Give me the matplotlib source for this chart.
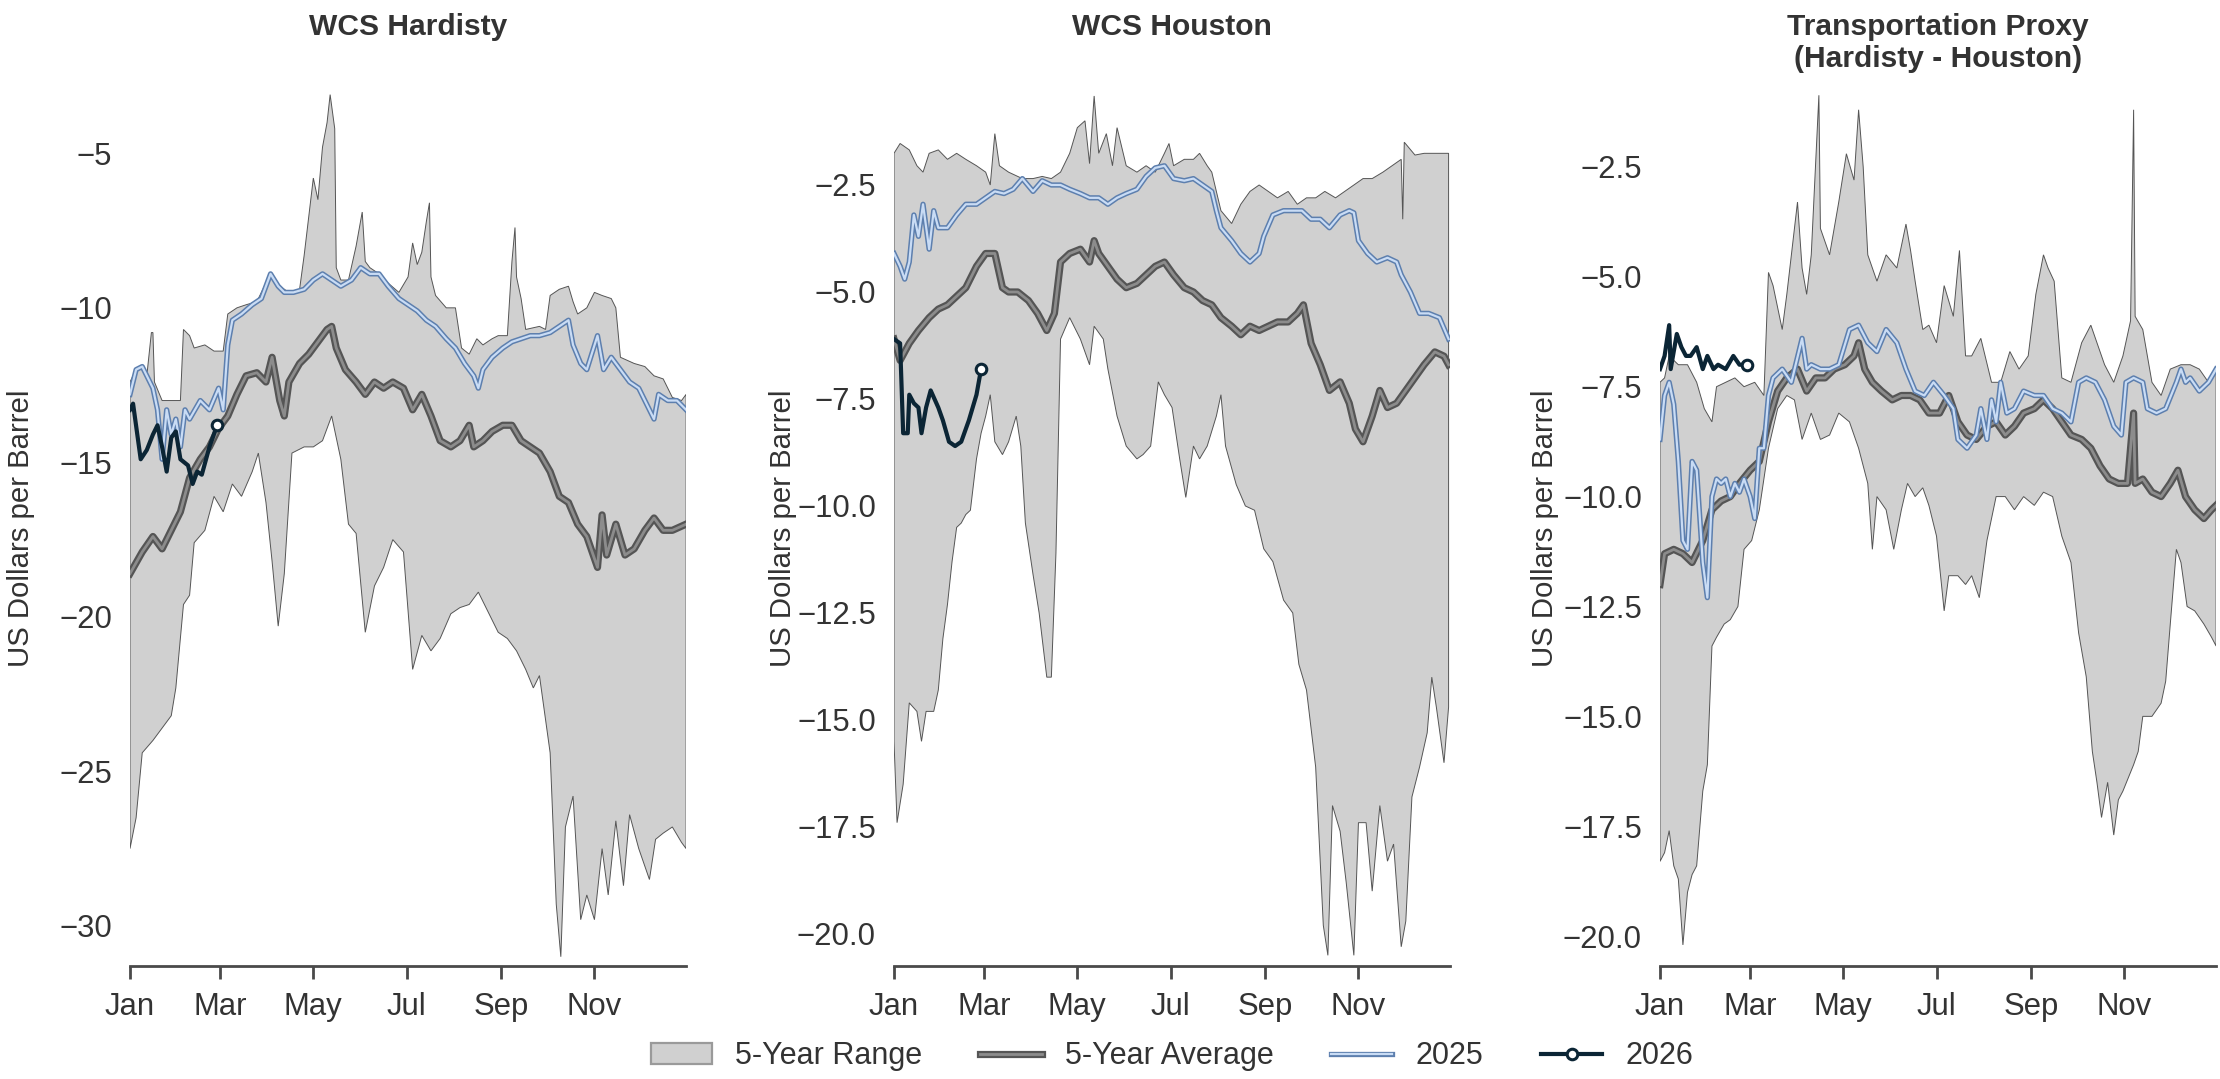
import numpy as np
import matplotlib
matplotlib.use("Agg")
import matplotlib.pyplot as plt
import matplotlib.patheffects as pe
from matplotlib.lines import Line2D
from matplotlib.patches import Patch

plt.rcParams['font.family'] = ['Liberation Sans', 'DejaVu Sans']

# day of year -> value
month_days = [0, 59, 120, 181, 243, 304]
month_labels = ["Jan", "Mar", "May", "Jul", "Sep", "Nov"]

# --- WCS Hardisty ---
hard_hi = [(0, -12.4), (4, -12.0), (8, -11.9), (11, -12.2), (14, -10.8), (15, -10.8), (16, -12.4), (21, -13.0),
           (27, -13.0), (33, -13.0), (35, -10.7), (39, -10.9), (42, -11.3), (49, -11.2), (55, -11.4), (61, -11.4),
           (64, -10.2), (70, -10.0), (76, -9.9), (83, -9.8), (92, -8.9), (98, -9.3), (104, -9.5), (111, -9.4),
           (114, -8.3), (120, -5.8), (123, -6.5), (126, -4.8), (129, -4.0), (131, -3.1), (134, -4.2), (135, -8.7),
           (138, -9.1), (143, -9.1), (148, -8.0), (152, -6.9), (154, -8.5), (157, -8.7), (163, -8.9), (169, -9.2),
           (176, -9.5), (182, -9.0), (185, -7.9), (188, -8.6), (191, -8.2), (194, -7.2), (196, -6.6), (197, -9.0),
           (200, -9.6), (207, -10.0), (213, -10.0), (217, -11.3), (222, -11.5), (227, -11.0), (231, -11.2),
           (237, -11.0), (241, -10.9), (247, -10.9), (250, -8.5), (252, -7.4), (253, -9.0), (256, -9.7),
           (259, -10.7), (268, -10.6), (272, -10.7), (275, -9.6), (281, -9.4), (287, -9.3), (290, -9.8),
           (293, -10.2), (299, -10.0), (304, -9.5), (309, -9.6), (315, -9.7), (318, -10.0), (321, -11.6),
           (330, -11.8), (337, -11.9), (343, -12.2), (349, -12.3), (355, -12.9), (361, -13.0), (364, -12.8)]
hard_lo = [(0, -27.5), (4, -26.5), (8, -24.4), (15, -24.0), (21, -23.6), (27, -23.2), (30, -22.3), (35, -19.6),
           (39, -19.3), (42, -17.6), (49, -17.2), (55, -16.1), (61, -16.6), (67, -15.7), (73, -16.1), (80, -15.3),
           (84, -14.7), (89, -16.3), (93, -18.2), (97, -20.3), (101, -18.6), (106, -14.7), (114, -14.5),
           (120, -14.5), (126, -14.3), (132, -13.5), (138, -14.9), (143, -17.0), (148, -17.3), (154, -20.5),
           (160, -19.0), (166, -18.4), (172, -17.5), (179, -17.9), (185, -21.7), (191, -20.6), (197, -21.1),
           (203, -20.7), (210, -19.9), (216, -19.7), (222, -19.6), (228, -19.2), (234, -19.8), (241, -20.5),
           (247, -20.7), (253, -21.1), (259, -21.7), (264, -22.3), (268, -21.9), (275, -24.4), (279, -29.3),
           (282, -31.0), (285, -26.8), (290, -25.8), (295, -29.8), (299, -29.0), (304, -29.8), (309, -27.5),
           (313, -29.0), (318, -26.6), (323, -28.7), (327, -26.4), (333, -27.5), (340, -28.5), (344, -27.2),
           (349, -27.0), (355, -26.8), (361, -27.3), (364, -27.5)]
hard_avg = [(0, -18.6), (8, -17.9), (15, -17.4), (21, -17.8), (27, -17.2), (33, -16.6), (39, -15.5), (46, -14.9),
            (52, -14.5), (58, -13.9), (64, -13.5), (70, -12.8), (76, -12.2), (83, -12.1), (89, -12.4), (93, -11.6),
            (98, -13.0), (101, -13.5), (104, -12.4), (111, -11.8), (117, -11.5), (123, -11.1), (129, -10.7),
            (132, -10.6), (135, -11.3), (141, -12.0), (148, -12.4), (154, -12.8), (160, -12.4), (166, -12.6),
            (172, -12.4), (179, -12.6), (185, -13.3), (191, -12.8), (197, -13.5), (203, -14.3), (210, -14.5),
            (216, -14.3), (222, -13.8), (225, -14.5), (231, -14.3), (237, -14.0), (244, -13.8), (250, -13.8),
            (256, -14.3), (262, -14.5), (268, -14.7), (275, -15.3), (281, -16.1), (287, -16.3), (293, -17.0),
            (299, -17.4), (306, -18.4), (309, -16.7), (312, -18.0), (318, -17.0), (324, -18.0), (330, -17.8),
            (337, -17.2), (343, -16.8), (349, -17.2), (355, -17.2), (364, -17.0)]
hard_2025 = [(0, -12.8), (4, -12.0), (8, -11.9), (15, -12.6), (18, -13.3), (21, -14.9), (24, -13.3), (27, -14.1),
             (30, -13.6), (33, -14.5), (36, -13.3), (39, -13.6), (46, -13.0), (52, -13.3), (58, -12.6), (61, -13.3),
             (64, -11.2), (67, -10.4), (73, -10.2), (80, -9.9), (86, -9.7), (92, -8.9), (97, -9.3), (101, -9.5),
             (107, -9.5), (114, -9.4), (120, -9.1), (126, -8.9), (132, -9.1), (138, -9.3), (145, -9.1), (151, -8.7),
             (157, -8.9), (163, -8.9), (169, -9.3), (176, -9.7), (182, -9.9), (188, -10.1), (194, -10.4),
             (200, -10.6), (207, -11.0), (213, -11.3), (219, -11.8), (225, -12.2), (228, -12.6), (231, -12.0),
             (237, -11.6), (244, -11.3), (250, -11.1), (256, -11.0), (262, -10.9), (268, -10.9), (275, -10.8),
             (281, -10.6), (287, -10.4), (290, -11.2), (295, -11.8), (299, -12.0), (306, -10.9), (310, -12.0),
             (315, -11.6), (321, -12.0), (327, -12.4), (333, -12.6), (340, -13.3), (343, -13.6), (346, -12.8),
             (352, -13.0), (358, -13.0), (364, -13.3)]
hard_2026 = [(0, -13.3), (2, -13.1), (7, -14.9), (11, -14.6), (15, -14.1), (18, -13.8), (21, -14.5), (24, -15.3),
             (27, -14.2), (30, -14.0), (33, -14.9), (38, -15.1), (41, -15.7), (44, -15.3), (47, -15.4), (52, -14.5),
             (57, -13.8)]

# --- WCS Houston ---
hou_hi = [(0, -1.76), (4, -1.53), (10, -1.68), (15, -2.05), (19, -2.2), (23, -1.76), (29, -1.68), (35, -1.9),
          (41, -1.76), (47, -1.9), (54, -2.05), (60, -2.2), (63, -2.5), (66, -1.3), (69, -2.05), (75, -2.2),
          (84, -2.35), (91, -2.35), (97, -2.3), (103, -2.35), (109, -2.2), (115, -1.76), (120, -1.16), (125, -1.0),
          (128, -2.0), (131, -0.42), (134, -1.76), (139, -1.3), (143, -2.05), (146, -1.16), (152, -2.05),
          (159, -2.2), (165, -2.05), (171, -2.2), (177, -1.76), (180, -1.53), (183, -2.05), (190, -1.9),
          (196, -1.9), (200, -1.76), (205, -2.05), (208, -2.2), (214, -3.1), (221, -3.4), (227, -2.95),
          (233, -2.65), (239, -2.5), (245, -2.65), (251, -2.8), (258, -2.65), (264, -2.95), (270, -2.8),
          (276, -2.8), (282, -2.65), (289, -2.8), (295, -2.65), (301, -2.5), (307, -2.35), (313, -2.35),
          (320, -2.2), (326, -2.05), (332, -1.9), (333, -3.3), (334, -1.5), (341, -1.8), (347, -1.76),
          (354, -1.76), (363, -1.76)]
hou_lo = [(0, -15.5), (2, -17.4), (6, -16.5), (10, -14.6), (15, -14.8), (18, -15.5), (21, -14.8), (26, -14.8),
          (29, -14.3), (32, -13.1), (35, -12.3), (38, -11.3), (41, -10.5), (44, -10.4), (47, -10.2), (50, -10.1),
          (54, -8.9), (57, -8.3), (60, -7.9), (63, -7.4), (66, -8.5), (71, -8.8), (75, -8.5), (80, -7.9),
          (83, -8.6), (86, -10.4), (91, -11.6), (95, -12.5), (100, -14.0), (103, -14.0), (106, -11.1),
          (109, -6.1), (115, -5.6), (122, -6.1), (128, -6.7), (131, -5.8), (137, -6.1), (140, -6.8), (146, -7.9),
          (152, -8.6), (159, -8.9), (163, -8.8), (168, -8.6), (173, -7.1), (177, -7.4), (182, -7.7), (187, -8.9),
          (191, -9.8), (196, -8.6), (200, -8.9), (205, -8.6), (211, -7.9), (214, -7.4), (217, -8.6), (224, -9.5),
          (230, -10.0), (236, -10.1), (242, -11.0), (248, -11.3), (255, -12.2), (261, -12.5), (265, -13.7),
          (270, -14.3), (276, -16.1), (281, -19.8), (284, -20.5), (287, -17.0), (292, -17.6), (296, -18.8),
          (301, -20.5), (304, -17.4), (309, -17.4), (313, -19.0), (318, -17.0), (323, -18.3), (327, -17.9),
          (332, -20.3), (335, -19.7), (339, -16.8), (344, -16.1), (349, -15.3), (352, -14.0), (355, -14.7),
          (360, -16.0), (363, -14.7)]
hou_avg = [(0, -6.1), (4, -6.6), (10, -6.2), (16, -5.9), (23, -5.6), (29, -5.4), (35, -5.3), (41, -5.1),
           (47, -4.9), (54, -4.4), (60, -4.1), (66, -4.1), (71, -4.9), (75, -5.0), (81, -5.0), (88, -5.2),
           (94, -5.5), (100, -5.9), (105, -5.5), (109, -4.3), (115, -4.1), (122, -4.0), (128, -4.3), (131, -3.8),
           (134, -4.1), (140, -4.4), (146, -4.7), (152, -4.9), (159, -4.8), (165, -4.6), (171, -4.4), (177, -4.3),
           (183, -4.6), (190, -4.9), (196, -5.0), (202, -5.2), (208, -5.3), (214, -5.6), (221, -5.8), (227, -6.0),
           (233, -5.8), (239, -5.9), (245, -5.8), (251, -5.7), (258, -5.7), (264, -5.5), (268, -5.3), (273, -6.2),
           (279, -6.7), (285, -7.3), (292, -7.1), (298, -7.6), (302, -8.2), (307, -8.5), (313, -7.9), (318, -7.3),
           (323, -7.7), (329, -7.6), (335, -7.3), (341, -7.0), (347, -6.7), (354, -6.4), (360, -6.5), (363, -6.7)]
hou_2025 = [(0, -4.1), (4, -4.4), (7, -4.7), (10, -4.3), (13, -3.2), (16, -3.7), (19, -2.95), (23, -4.0),
            (26, -3.1), (29, -3.5), (35, -3.5), (41, -3.2), (47, -2.95), (54, -2.95), (60, -2.8), (66, -2.65),
            (72, -2.7), (78, -2.6), (84, -2.35), (91, -2.65), (97, -2.4), (103, -2.5), (109, -2.5), (115, -2.6),
            (122, -2.7), (128, -2.8), (134, -2.8), (140, -2.95), (146, -2.8), (152, -2.7), (159, -2.6),
            (165, -2.3), (171, -2.1), (177, -2.05), (183, -2.35), (190, -2.4), (196, -2.35), (202, -2.5),
            (208, -2.65), (211, -3.1), (214, -3.5), (221, -3.8), (227, -4.1), (233, -4.3), (239, -4.1),
            (242, -3.7), (248, -3.2), (255, -3.1), (261, -3.1), (267, -3.1), (273, -3.3), (279, -3.3), (285, -3.5),
            (292, -3.2), (298, -3.1), (301, -3.15), (304, -3.8), (310, -4.1), (316, -4.3), (323, -4.2),
            (329, -4.3), (332, -4.6), (338, -5.0), (344, -5.5), (350, -5.5), (357, -5.6), (363, -6.1)]
hou_2026 = [(0, -6.1), (4, -6.2), (6, -8.3), (9, -8.3), (10, -7.4), (13, -7.6), (16, -7.7), (18, -8.3), (21, -7.7),
            (24, -7.3), (29, -7.7), (32, -8.0), (36, -8.5), (40, -8.6), (44, -8.5), (49, -8.0), (54, -7.4),
            (57, -6.8)]

# --- Transportation proxy ---
tp_hi = [(0, -7.4), (3, -7.3), (6, -6.8), (12, -7.0), (18, -7.0), (24, -7.4), (29, -8.0), (34, -8.3), (37, -7.5),
         (43, -7.4), (49, -7.3), (55, -7.5), (62, -7.4), (68, -7.7), (71, -4.9), (74, -5.2), (80, -6.2), (83, -5.4),
         (86, -4.5), (90, -3.3), (93, -4.8), (96, -5.4), (99, -4.5), (104, -0.87), (105, -3.9), (111, -4.5),
         (117, -3.3), (122, -2.2), (127, -2.8), (130, -1.2), (133, -2.5), (136, -4.5), (142, -5.1), (148, -4.5),
         (155, -4.8), (161, -3.8), (164, -4.4), (167, -5.1), (172, -6.2), (176, -6.1), (181, -6.5), (186, -5.2),
         (192, -5.9), (196, -4.4), (200, -6.8), (204, -6.8), (210, -6.4), (217, -7.4), (223, -7.4), (229, -6.7),
         (235, -7.1), (241, -6.8), (246, -5.4), (251, -4.5), (254, -4.8), (258, -5.1), (263, -7.3), (269, -7.4),
         (276, -6.5), (282, -6.1), (285, -6.4), (291, -7.0), (297, -7.4), (303, -6.8), (308, -6.0), (310, -1.2),
         (311, -5.9), (316, -6.2), (322, -7.4), (328, -7.7), (334, -7.1), (341, -7.0), (347, -7.0), (353, -7.1),
         (359, -7.4), (364, -7.1)]
tp_lo = [(0, -18.3), (3, -18.1), (6, -17.6), (9, -18.4), (12, -18.7), (15, -20.2), (18, -19.0), (21, -18.6),
         (24, -18.4), (28, -16.7), (31, -16.1), (34, -13.4), (37, -13.2), (42, -12.9), (46, -12.8), (51, -12.5),
         (55, -11.2), (60, -11.0), (65, -10.3), (71, -8.9), (77, -8.0), (83, -7.7), (88, -7.8), (93, -8.7),
         (99, -8.1), (105, -8.7), (111, -8.6), (117, -8.1), (124, -8.3), (130, -8.9), (136, -9.7), (139, -11.2),
         (142, -10.0), (148, -10.3), (153, -11.2), (158, -10.3), (162, -9.7), (167, -10.0), (172, -9.8),
         (176, -10.2), (181, -10.9), (186, -12.6), (189, -11.8), (195, -11.8), (200, -12.0), (204, -11.8),
         (209, -12.3), (214, -11.0), (220, -10.0), (226, -10.0), (232, -10.3), (238, -10.0), (245, -10.2),
         (251, -9.9), (257, -10.0), (263, -10.9), (269, -11.5), (274, -13.1), (279, -14.1), (283, -15.8),
         (286, -16.5), (289, -17.3), (293, -16.5), (297, -17.7), (300, -16.9), (303, -16.7), (310, -16.1),
         (313, -15.8), (316, -15.0), (322, -15.0), (328, -14.7), (331, -14.2), (334, -12.9), (338, -11.2),
         (341, -11.5), (345, -12.5), (350, -12.6), (356, -12.9), (361, -13.2), (364, -13.4)]
tp_avg = [(0, -12.0), (3, -11.3), (9, -11.2), (15, -11.3), (21, -11.5), (28, -11.0), (34, -10.3), (40, -10.1),
          (46, -10.0), (52, -9.7), (59, -9.4), (65, -9.2), (71, -8.3), (77, -7.6), (83, -7.3), (90, -7.1),
          (96, -7.6), (102, -7.3), (108, -7.3), (114, -7.1), (121, -7.0), (127, -6.8), (130, -6.5), (134, -7.1),
          (139, -7.4), (145, -7.6), (152, -7.8), (158, -7.7), (164, -7.7), (170, -7.8), (176, -8.1), (183, -8.1),
          (189, -7.7), (195, -8.3), (201, -8.6), (207, -8.7), (214, -8.4), (220, -8.3), (226, -8.6), (232, -8.4),
          (238, -8.1), (245, -8.0), (251, -7.8), (257, -8.0), (263, -8.3), (269, -8.6), (276, -8.7), (282, -8.9),
          (288, -9.3), (294, -9.6), (300, -9.7), (306, -9.7), (310, -8.1), (311, -9.7), (316, -9.6), (322, -9.9),
          (328, -10.0), (334, -9.7), (339, -9.4), (344, -10.0), (350, -10.3), (356, -10.5), (361, -10.3),
          (364, -10.2)]
tp_2025 = [(0, -8.7), (3, -7.7), (6, -7.4), (9, -7.9), (12, -9.2), (15, -11.0), (18, -11.2), (21, -9.2), (24, -9.4),
           (28, -11.5), (31, -12.3), (34, -10.0), (37, -9.6), (40, -9.7), (43, -9.6), (46, -10.0), (49, -9.7),
           (52, -9.9), (55, -9.6), (59, -10.0), (62, -10.5), (65, -8.9), (68, -8.9), (71, -7.7), (74, -7.3),
           (80, -7.1), (86, -7.4), (93, -6.4), (96, -7.1), (99, -7.0), (105, -7.1), (111, -7.1), (117, -7.0),
           (124, -6.2), (130, -6.1), (136, -6.5), (142, -6.7), (148, -6.2), (155, -6.5), (161, -7.1), (167, -7.6),
           (173, -7.7), (179, -7.4), (186, -7.7), (192, -8.0), (195, -8.7), (201, -8.9), (207, -8.6), (210, -8.0),
           (214, -8.7), (217, -7.8), (220, -8.3), (223, -7.4), (227, -8.1), (232, -8.0), (238, -7.6), (245, -7.7),
           (251, -7.7), (257, -8.0), (263, -8.1), (269, -8.3), (274, -7.4), (279, -7.3), (285, -7.4), (291, -7.8),
           (297, -8.4), (302, -8.6), (305, -7.4), (310, -7.3), (316, -7.4), (319, -8.0), (325, -8.1), (331, -8.0),
           (338, -7.4), (341, -7.1), (344, -7.4), (347, -7.3), (353, -7.6), (359, -7.4), (364, -7.1)]
tp_2026 = [(0, -7.1), (3, -6.8), (6, -6.1), (7, -7.1), (11, -6.3), (14, -6.6), (17, -6.8), (20, -6.8), (24, -6.6),
           (28, -7.1), (31, -6.8), (35, -7.1), (38, -7.0), (43, -7.1), (48, -6.8), (52, -7.0), (57, -7.0)]

titles = ["WCS Hardisty", "WCS Houston", "Transportation Proxy\n(Hardisty - Houston)"]
ylims = [(-31.3, -2.95), (-20.75, -0.28), (-20.68, -0.75)]
yticks = [[-30, -25, -20, -15, -10, -5],
          [-20, -17.5, -15, -12.5, -10, -7.5, -5, -2.5],
          [-20, -17.5, -15, -12.5, -10, -7.5, -5, -2.5]]
panels = [(hard_hi, hard_lo, hard_avg, hard_2025, hard_2026),
          (hou_hi, hou_lo, hou_avg, hou_2025, hou_2026),
          (tp_hi, tp_lo, tp_avg, tp_2025, tp_2026)]

FILL = '#d0d0d0'
TXT = '#333333'
avg_fx = [pe.Stroke(linewidth=2.6, foreground='#555555'), pe.Normal()]
y25_fx = [pe.Stroke(linewidth=1.9, foreground='#5d7fae'), pe.Normal()]

fig = plt.figure(figsize=(11.1, 5.395), dpi=200)
lefts = [130 / 2220, 894 / 2220, 1660 / 2220]
label_x = [-0.171, -0.175, -0.181]

for i, (hi, lo, avg, y25, y26) in enumerate(panels):
    ax = fig.add_axes([lefts[i], 0.1047, 0.2505, 0.8119])
    hx, hy = zip(*hi)
    lx, ly = zip(*lo)
    ax.fill(np.r_[hx, lx[::-1]], np.r_[hy, ly[::-1]], facecolor=FILL,
            edgecolor='#555555', linewidth=0.35, zorder=1)
    ax.plot(*zip(*avg), color='#8c8c8c', lw=1.0, path_effects=avg_fx, zorder=2)
    ax.plot(*zip(*y25), color='#c9dcf5', lw=0.8, path_effects=y25_fx, zorder=3)
    x26, v26 = zip(*y26)
    ax.plot(x26, v26, color='#0b2535', lw=1.5, zorder=4)
    ax.plot(x26[-1], v26[-1], 'o', ms=3.8, mfc='white', mec='#0b2535', mew=1.1, zorder=5)

    ax.set_xlim(0, 364)
    ax.set_ylim(*ylims[i])
    ax.set_xticks(month_days)
    ax.set_xticklabels(month_labels)
    ax.set_yticks(yticks[i])
    ax.set_yticklabels([f"{t:g}".replace('-', '\u2212') if i == 0 else f"{t:.1f}".replace('-', '\u2212')
                        for t in yticks[i]])
    for s in ['top', 'right', 'left']:
        ax.spines[s].set_visible(False)
    ax.spines['bottom'].set_color('#4a4a4a')
    ax.spines['bottom'].set_linewidth(1.0)
    ax.tick_params(axis='x', length=4.7, width=1.0, color='#4a4a4a', labelsize=11.2,
                   labelcolor=TXT, pad=4.5)
    ax.tick_params(axis='y', length=0, labelsize=11.2, labelcolor=TXT, pad=6.5)
    ax.set_ylabel("US Dollars per Barrel", fontsize=10.6, color=TXT)
    ax.yaxis.set_label_coords(label_x[i], 0.5)
    ax.text(0.5, 1.088, titles[i], transform=ax.transAxes, ha='center', va='top',
            fontsize=10.8, fontweight='bold', color=TXT, linespacing=1.2)

handles = [Patch(facecolor=FILL, edgecolor='#9a9a9a', linewidth=0.8),
           Line2D([], [], color='#8c8c8c', lw=1.0, path_effects=avg_fx),
           Line2D([], [], color='#c9dcf5', lw=0.8, path_effects=y25_fx),
           Line2D([], [], color='#0b2535', lw=1.5, marker='o', ms=3.8, mfc='white', mec='#0b2535', mew=1.1)]
fig.legend(handles, ["5-Year Range", "5-Year Average", "2025", "2026"], loc='center',
           bbox_to_anchor=(0.528, 0.021), ncol=4, frameon=False, fontsize=11,
           handlelength=2.0, handletextpad=0.75, columnspacing=1.9, labelcolor=TXT)

fig.savefig("out.png", dpi=200, facecolor='white')
